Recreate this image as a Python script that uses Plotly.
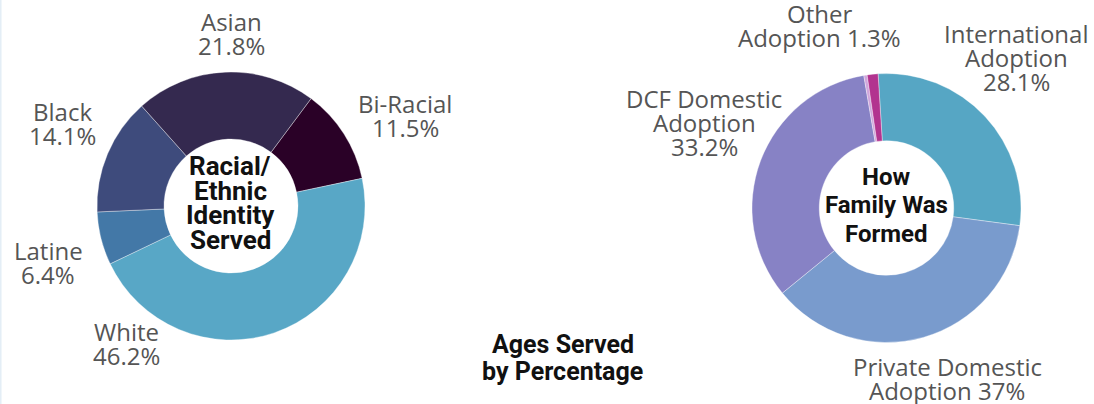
import plotly.graph_objects as go

# ---------------- data ----------------
race_labels = ["Bi-Racial", "White", "Latine", "Black", "Asian"]
race_values = [11.5, 46.2, 6.4, 14.1, 21.8]
race_colors = ["#2a0127", "#58a7c6", "#4378a7", "#3e4b7c", "#34294f"]
race_text_lines = [["Bi-Racial", "{v}%"], ["White", "{v}%"], ["Latine", "{v}%"],
                   ["Black", "{v}%"], ["Asian", "{v}%"]]

family_labels = ["International Adoption", "Private Domestic Adoption",
                 "DCF Domestic Adoption", "Unspecified", "Other Adoption"]
family_values = [28.1, 37, 33.2, 0.4, 1.3]
family_colors = ["#56a6c4", "#799bcd", "#8782c5", "#cfa6dc", "#b2338f"]
family_text_lines = [["International", "Adoption", "{v}%"],
                     ["Private Domestic", "Adoption {v}%"],
                     ["DCF Domestic", "Adoption", "{v}%"],
                     None,
                     ["Other", "Adoption {v}%"]]

race_center_title = ["Racial/", "Ethnic", "Identity", "Served"]
family_center_title = ["How", "Family Was", "Formed"]
third_title = ["Ages Served", "by Percentage"]

# ---------------- layout (pixel positions in the 1094x404 window) ----------------
W, H = 1094, 404
race_label_pos = [(405, 103.5), (126, 331.5), (48, 250), (62, 111), (232, 21.5)]
family_label_pos = [(1016, 33.5), (947, 366.5), (704, 98.5), None, (819, 13.5)]
LABEL_PITCH = 24

def px(x):
    return x / W

def py(y):
    return 1 - y / H

fig = go.Figure()

fig.add_trace(go.Pie(
    labels=race_labels, values=race_values, sort=False, direction="clockwise",
    rotation=36.7, hole=0.5, textinfo="none", hoverinfo="skip",
    marker=dict(colors=race_colors, line=dict(color="rgba(255,255,255,0.6)", width=0.6)),
    domain=dict(x=[px(97), px(365)], y=[py(340), py(72)]),
    showlegend=False,
))
fig.add_trace(go.Pie(
    labels=family_labels, values=family_values, sort=False, direction="clockwise",
    rotation=-3.6, hole=0.5, textinfo="none", hoverinfo="skip",
    marker=dict(colors=family_colors, line=dict(color="rgba(255,255,255,0.6)", width=0.6)),
    domain=dict(x=[px(752), px(1021)], y=[py(342.5), py(73.5)]),
    showlegend=False,
))

label_font = dict(family="Open Sans", size=24, color="#555555")
bold_font = dict(family="Roboto", size=24, color="#111111", weight="bold")

def add_lines(lines, x, y0, pitch, font):
    for i, line in enumerate(lines):
        fig.add_annotation(x=px(x), y=py(y0 + i * pitch), xref="paper", yref="paper",
                           text=line, showarrow=False, xanchor="center",
                           yanchor="middle", font=font)

for lines, val, pos in zip(race_text_lines, race_values, race_label_pos):
    if lines and pos:
        add_lines([l.format(v=f"{val:g}") for l in lines], pos[0], pos[1], LABEL_PITCH, label_font)
for lines, val, pos in zip(family_text_lines, family_values, family_label_pos):
    if lines and pos:
        add_lines([l.format(v=f"{val:g}") for l in lines], pos[0], pos[1], LABEL_PITCH, label_font)

add_lines(race_center_title, 230, 166, 24.7, dict(bold_font, size=26))
add_lines(family_center_title, 886, 177, 28.3, bold_font)
add_lines(third_title, 562.5, 344.5, 27, dict(bold_font, size=25))

fig.add_shape(type="line", xref="paper", yref="paper", x0=px(0.8), x1=px(0.8), y0=0, y1=1,
              line=dict(color="#e3eef6", width=1.5))

fig.update_layout(width=W, height=H, margin=dict(l=0, r=0, t=0, b=0),
                  paper_bgcolor="white", plot_bgcolor="white")

fig.write_html("out.html", config={"displayModeBar": False},
               post_script="document.body.style.margin='0';document.body.style.padding='0';")
